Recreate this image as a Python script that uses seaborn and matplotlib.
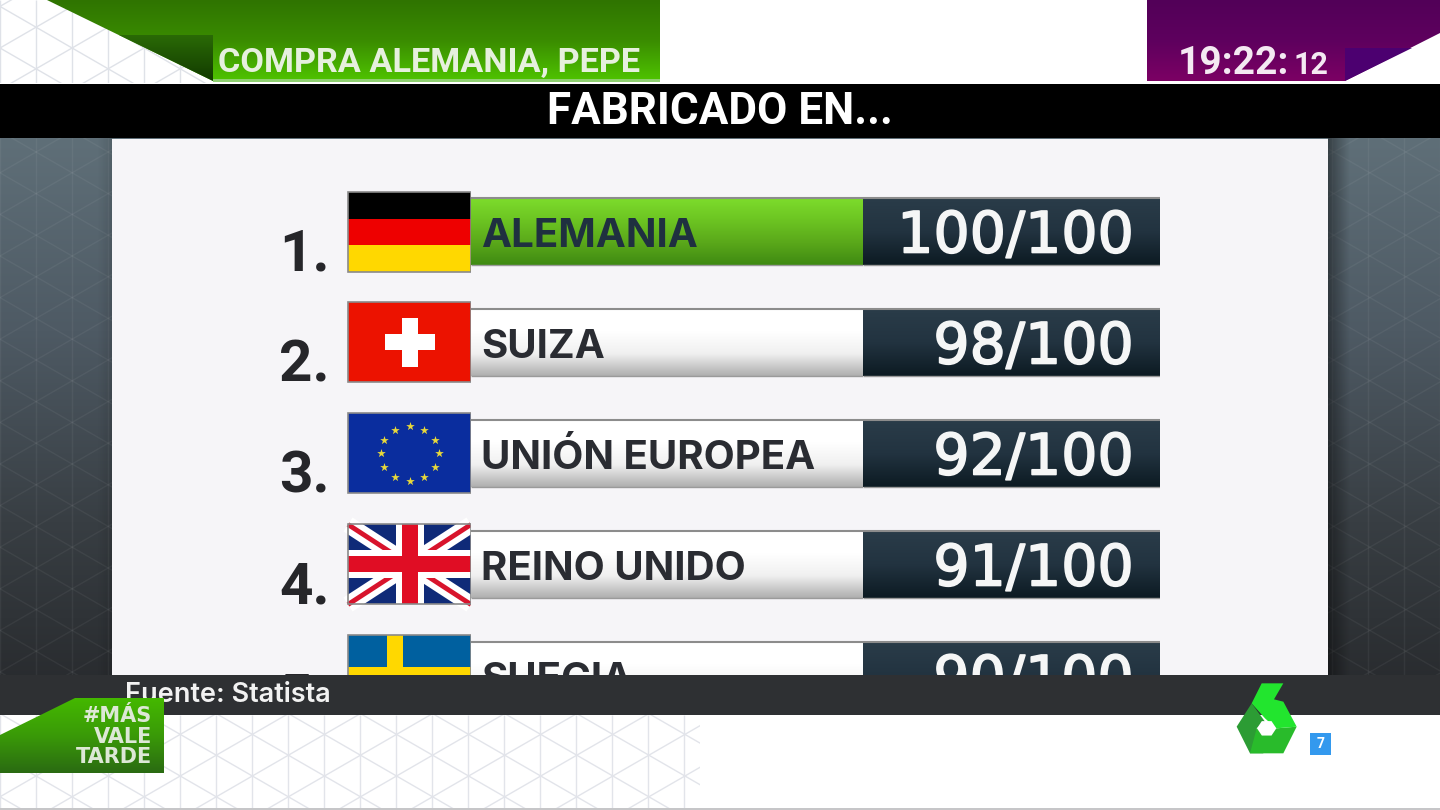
import numpy as np
import matplotlib
matplotlib.use("Agg")
import matplotlib.pyplot as plt
import matplotlib.patheffects as pe
from matplotlib.colors import LinearSegmentedColormap
from matplotlib.patches import Polygon, Rectangle
from matplotlib.collections import LineCollection
import seaborn as sns

# ---- data ----
ranks = ["1.", "2.", "3.", "4.", "5."]
countries = ["ALEMANIA", "SUIZA", "UNIÓN EUROPEA", "REINO UNIDO", "SUECIA"]
scores = [100, 98, 92, 91, 90]
score_max = [100, 100, 100, 100, 100]
title = "FABRICADO EN..."
program = "COMPRA ALEMANIA, PEPE"
source = "Fuente: Statista"

W, H = 1440, 810
sns.set_theme(style="white")
plt.rcParams["font.family"] = ["Roboto", "DejaVu Sans"]
fig = plt.figure(figsize=(W / 100, H / 100), dpi=100, facecolor="white")


def px_axes(x0, y0, x1, y1, z):
    ax = fig.add_axes([x0 / W, 1 - y1 / H, (x1 - x0) / W, (y1 - y0) / H], zorder=z)
    ax.patch.set_alpha(0)
    return ax


def gradient(ax, extent, stops, horizontal=False, clip=None, z=1):
    cmap = LinearSegmentedColormap.from_list("g", stops)
    arr = np.linspace(0, 1, 256)
    arr = arr[None, :] if horizontal else arr[:, None]
    im = ax.imshow(arr, cmap=cmap, extent=extent, aspect="auto", origin="upper",
                   zorder=z, interpolation="bilinear", vmin=0, vmax=1)
    if clip is not None:
        im.set_clip_path(clip)
    return im


def lattice(ax, x0, y0, x1, y1, color, z=1, lw=1.0):
    segs = [[(x, y0), (x, y1)] for x in np.arange(0, W + 1, 36)]
    slope = 0.577
    for c in np.arange(-1200, 2200, 41.6):
        segs.append([(0, c), (W, c + slope * W)])
        segs.append([(0, c), (W, c - slope * W)])
    lc = LineCollection(segs, colors=color, linewidths=lw, zorder=z)
    ax.add_collection(lc)
    lc.set_clip_path(Rectangle((x0, y0), x1 - x0, y1 - y0, transform=ax.transData))


# ---- background layer ----
bg = px_axes(0, 0, W, H, 0)
bg.set_xlim(0, W)
bg.set_ylim(H, 0)
bg.axis("off")

lattice(bg, 0, 0, 215, 83, "#dfe2e8", 1)
lattice(bg, 0, 715, W, 808, "#e2e4ea", 1)
bg.add_patch(Rectangle((660, 0), 487, 82, fc="white", ec="none", zorder=1.2))
bg.add_patch(Rectangle((700, 715), 760, 95, fc="white", ec="none", zorder=1.2))
bg.add_patch(Rectangle((0, 808), W, 2, fc="#c6c6c8", ec="none", zorder=2))

# green header
green_shape = Polygon([(47, 0), (660, 0), (660, 81), (213, 81)], transform=bg.transData, fc="none", ec="none")
bg.add_patch(green_shape)
gradient(bg, (40, 660, 81, 0), ["#2f7400", "#3a8c00", "#4fc400"], clip=green_shape, z=2)
dark_green = Polygon([(119, 35), (213, 35), (213, 81)], transform=bg.transData, fc="none", ec="none")
bg.add_patch(dark_green)
gradient(bg, (110, 213, 81, 35), ["#2a6a06", "#123a00"], clip=dark_green, z=2.1)
bg.add_patch(Rectangle((213, 79), 447, 3, fc="#8fd070", ec="none", zorder=2.2))
bg.text(218, 72.5, program, color="#e6f0de", fontsize=24.7, fontweight="bold", va="baseline", zorder=3)

# purple header
purple_shape = Polygon([(1147, 0), (W, 0), (W, 33), (1345, 81), (1147, 81)], transform=bg.transData, fc="none", ec="none")
bg.add_patch(purple_shape)
gradient(bg, (1147, W, 81, 0), ["#520058", "#5e005e", "#7c0064"], clip=purple_shape, z=2)
dark_purple = Polygon([(1345, 48), (1412, 48), (1345, 81)], transform=bg.transData, fc="#4c0070", ec="none", zorder=2.1)
bg.add_patch(dark_purple)
bg.text(1178, 73.5, "19:22:", color="#f4e9f2", fontsize=28, fontweight="bold", va="baseline", zorder=3)
bg.text(1328, 73.5, "12", color="#f4e9f2", fontsize=22, fontweight="bold", va="baseline", ha="right", zorder=3)

# title band
bg.add_patch(Rectangle((0, 84), W, 54, fc="#000000", ec="none", zorder=2))
bg.text(720, 124, title, color="white", fontsize=31.7, fontweight="bold", ha="center", va="baseline", zorder=3)

# grey studio wall + panel
gradient(bg, (0, W, 715, 138), ["#5f6f78", "#4e5a64", "#383e43", "#26282b"], z=1.5)
lattice(bg, 0, 138, 112, 715, (1, 1, 1, 0.05), 1.6)
lattice(bg, 1328, 138, W, 715, (1, 1, 1, 0.05), 1.6)
gradient(bg, (1328, 1350, 690, 138), [(0, 0, 0, 0.42), (0, 0, 0, 0)], horizontal=True, z=1.7)
gradient(bg, (98, 112, 690, 138), [(0, 0, 0, 0), (0, 0, 0, 0.12)], horizontal=True, z=1.7)
bg.add_patch(Rectangle((0, 675), W, 40, fc="#2e3033", ec="none", zorder=1.8))
bg.add_patch(Rectangle((112, 139), 1216, 536, fc="#f6f5f8", ec="none", zorder=1.9))

# ---- table: two bar panels through seaborn ----
ROW0, ROWH = 231.5, 111.0
top_px, bot_px = 176.0, 675.0
rows_ylim = ((bot_px - ROW0) / ROWH, (top_px - ROW0) / ROWH)

ax_name = px_axes(471, top_px, 863, bot_px, 1)
ax_score = px_axes(863, top_px, 1160, bot_px, 1)

name_colors = ["#68c020", "#e6e6e6", "#e6e6e6", "#e6e6e6", "#e6e6e6"]
score_colors = ["#1c2c38"] * 5
sns.barplot(y=countries, x=score_max, hue=countries, palette=name_colors, legend=False,
            orient="h", width=0.6, saturation=1, ax=ax_name)
sns.barplot(y=countries, x=score_max, hue=countries, palette=score_colors, legend=False,
            orient="h", width=0.6, saturation=1, ax=ax_score)

for ax, stops_for in ((ax_name, lambda i: ["#7ddc2c", "#6cc422", "#5aa81a", "#3f8a12"] if i == 0
                       else ["#ffffff", "#ffffff", "#f0f0f0", "#aeaeae"]),
                      (ax_score, lambda i: ["#2a3c49", "#223340", "#0c1a22"])):
    for i, p in enumerate(ax.patches):
        x0, y0, w, h = p.get_x(), p.get_y(), p.get_width(), p.get_height()
        gradient(ax, (x0, x0 + w, y0 + h, y0), stops_for(i), z=3)
        ax.plot([x0, x0 + w], [y0, y0], color="#8c8c8c", lw=1.5, zorder=4, solid_capstyle="butt")
        ax.plot([x0, x0 + w], [y0 + h, y0 + h], color="#9a9a9a", lw=1.0, zorder=4, solid_capstyle="butt")
    ax.set_xlim(0, 100)
    ax.set_ylim(*rows_ylim)
    ax.axis("off")

for i, name in enumerate(countries):
    ax_name.annotate(name, xy=(0, i), xytext=(10, -15.5), textcoords="offset pixels",
                     color="#1f3040" if i == 0 else "#2a2c32", fontsize=29, fontweight="bold",
                     family=["Inter", "DejaVu Sans"],
                     va="baseline", ha="left", zorder=5, annotation_clip=False, clip_on=True)
for i, s in enumerate(scores):
    ax_score.annotate(f"{s}/{score_max[i]}", xy=(100, i), xytext=(-26, -21), textcoords="offset pixels",
                      color="#f5f6f6", fontsize=41, family=["DejaVu Sans"], va="baseline", ha="right",
                      zorder=5, annotation_clip=False, clip_on=True,
                      path_effects=[pe.withStroke(linewidth=1.2, foreground="#f5f6f6")])

# ---- flags and rank numbers ----
fl = px_axes(270, top_px, 471, bot_px, 2)
fl.set_xlim(270, 471)
fl.set_ylim(bot_px, top_px)
fl.axis("off")
FX0, FX1 = 348, 471
FW = FX1 - FX0
FH = 80


def row_c(i):
    return ROW0 + ROWH * i


def rect(x, y, w, h, c, z=2):
    fl.add_patch(Rectangle((x, y), w, h, fc=c, ec="none", zorder=z))


def flag_frame(yc):
    fl.add_patch(Rectangle((FX0, yc - FH / 2), FW, FH, fc="none", ec="#8a8a8a", lw=1.2, zorder=6))


for i, r in enumerate(ranks):
    fl.text(330, row_c(i) + 39, r, color="#26262a", fontsize=42, fontweight="bold",
            ha="right", va="baseline", zorder=7, clip_on=True)

# Germany
yc = row_c(0)
rect(FX0, yc - 40, FW, 27, "#000000")
rect(FX0, yc - 13, FW, 26, "#ee0000")
rect(FX0, yc + 13, FW, 27, "#ffd800")
flag_frame(yc)
# Switzerland
yc = row_c(1)
rect(FX0, yc - 40, FW, FH, "#ec1200")
rect(385, yc - 8, 50, 16, "white", 3)
rect(402, yc - 24.5, 16, 49, "white", 3)
flag_frame(yc)
# European Union
yc = row_c(2)
rect(FX0, yc - 40, FW, FH, "#0a2d9e")
ang = np.deg2rad(np.arange(0, 360, 30))
fl.scatter(409.5 + 29 * np.cos(ang), yc + 27.5 * np.sin(ang), marker="*", s=42, c="#e8d83a", linewidths=0, zorder=3)
flag_frame(yc)
# United Kingdom
yc = row_c(3)
rect(FX0, yc - 40, FW, FH, "#0f2a78")
x0, x1, y0, y1 = FX0, FX1, yc - 40, yc + 40
for (a, b) in (((x0, y0), (x1, y1)), ((x0, y1), (x1, y0))):
    fl.plot([a[0], b[0]], [a[1], b[1]], color="white", lw=12, solid_capstyle="butt", zorder=3)
    fl.plot([a[0], b[0]], [a[1], b[1]], color="#d8142c", lw=3.5, solid_capstyle="butt", zorder=3.1)
rect(x0, yc - 14, FW, 28, "white", 4)
rect(396, y0, 28, FH, "white", 4)
rect(x0, yc - 8, FW, 16, "#e00d24", 5)
rect(402, y0, 16, FH, "#e00d24", 5)
flag_frame(yc)
# Sweden
yc = row_c(4)
rect(FX0, yc - 40, FW, FH, "#00609f")
rect(FX0, yc - 8, FW, 14, "#ffd800", 3)
rect(387, yc - 40, 16, FH, "#ffd800", 3)
flag_frame(yc)

# ---- foreground: source, badge, logo ----
fg = px_axes(0, 0, W, H, 3)
fg.set_xlim(0, W)
fg.set_ylim(H, 0)
fg.axis("off")

fg.text(125, 702, source, color="#f2f2f2", fontsize=19.5, fontweight="semibold",
        family=["Inter", "DejaVu Sans"], va="baseline", zorder=1)

badge = Polygon([(75, 698), (164, 698), (164, 773), (0, 773), (0, 735)], transform=fg.transData, fc="none", ec="none")
fg.add_patch(badge)
gradient(fg, (0, 164, 773, 698), ["#44b800", "#3a9a08", "#2a6a12"], clip=badge, z=2)
for txt, y in (("#MÁS", 722), ("VALE", 743), ("TARDE", 763)):
    fg.text(152, y, txt, color="#dde8d6", fontsize=15, fontweight="bold", family=["DejaVu Sans"],
            ha="right", va="baseline", zorder=3)


def lp(pts):
    return [(1200 + x / 3, 660 + y / 3) for x, y in pts]


fg.add_patch(Polygon(lp([(155, 130), (195, 185), (170, 205), (190, 280), (150, 280), (110, 200)]), fc="#2c9c34", ec="none", zorder=4))
fg.add_patch(Polygon(lp([(170, 205), (230, 205), (290, 200), (250, 280), (150, 280)]), fc="#29bb2b", ec="none", zorder=4.1))
fg.add_patch(Polygon(lp([(185, 70), (250, 70), (222, 118), (250, 125), (290, 200), (228, 205), (195, 175), (155, 130)]), fc="#22e52e", ec="none", zorder=4.2))
hex_a = np.deg2rad(np.arange(0, 360, 60))
fg.add_patch(Polygon(lp(list(zip(200 + 29 * np.cos(hex_a), 205 + 25 * np.sin(hex_a)))), fc="white", ec="none", zorder=4.3))
fg.add_patch(Rectangle((1310, 733), 21, 22, fc="#3399ee", ec="none", zorder=4))
fg.text(1320.5, 744, "7", color="white", fontsize=10, fontweight="bold", ha="center", va="center", zorder=5)

for a in (bg, fg):
    a.set_xlim(0, W)
    a.set_ylim(H, 0)

fig.savefig("out.png", dpi=100)
